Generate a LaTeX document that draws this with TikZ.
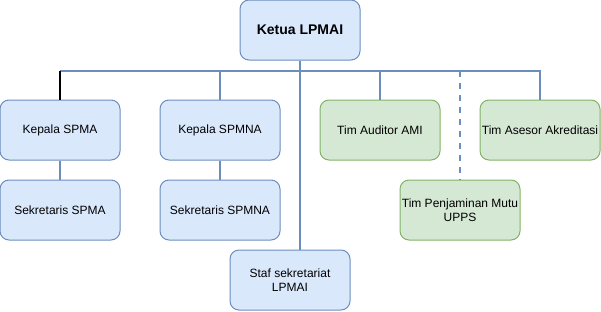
\documentclass[tikz,border=0pt]{standalone}
\usepackage{fontspec}
\setmainfont{Liberation Sans}
\definecolor{bluefill}{HTML}{DAE8FC}
\definecolor{bluedraw}{HTML}{6C8EBF}
\definecolor{greenfill}{HTML}{D5E8D4}
\definecolor{greendraw}{HTML}{82B366}
\begin{document}
\begin{tikzpicture}[x=1pt,y=-1pt,
  unitbox/.style={draw=bluedraw, fill=bluefill, line width=1pt, rounded corners=9pt,
    minimum width=120pt, minimum height=60pt, inner sep=1pt, align=center,
    font=\fontsize{12}{14.4}\selectfont},
  timbox/.style={unitbox, draw=greendraw, fill=greenfill},
  edge/.style={draw=bluedraw, line width=2pt}]
\useasboundingbox (0,0) rectangle (601,311);
% top
\node[unitbox, font=\bfseries\fontsize{14}{16}\selectfont] (ketua) at (300,30) {Ketua LPMAI};
% first row
\node[unitbox] (kspma) at (60,130) {Kepala SPMA};
\node[unitbox] (kspmna) at (220,130) {Kepala SPMNA};
\node[timbox] (auditor) at (380,130) {Tim Auditor AMI};
\node[timbox] (asesor) at (540,130) {Tim Asesor Akreditasi};
% second row
\node[unitbox] (sspma) at (60,210) {Sekretaris SPMA};
\node[unitbox] (sspmna) at (220,210) {Sekretaris SPMNA};
\node[timbox] (upps) at (460,210) {Tim Penjaminan Mutu\\UPPS};
\node[unitbox] (staf) at (290,280) {Staf sekretariat\\LPMAI};
% connectors
\draw[edge] (ketua.south) -- ++(0,10) coordinate (hub);
\draw[edge] (hub) -- (hub -| kspma.north);
\draw[black, line width=2pt] (hub -| kspma.north) -- (kspma.north);
\draw[edge] (hub) -| (kspmna.north);
\draw[edge] (hub) -| (auditor.north);
\draw[edge] (hub) -| (asesor.north);
\draw[edge, dash pattern=on 6pt off 6pt] (hub -| upps.north) -- (upps.north);
\draw[edge] (kspma) -- (sspma);
\draw[edge] (kspmna) -- (sspmna);
\draw[edge] (ketua.south) -- (staf.north -| ketua.south);
\end{tikzpicture}
\end{document}
